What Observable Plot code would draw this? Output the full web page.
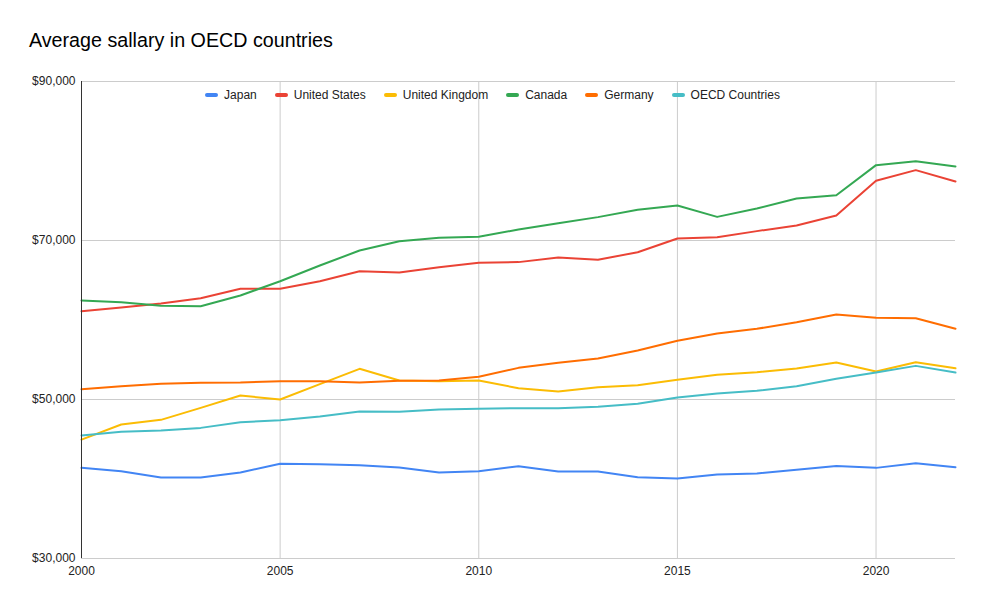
<!DOCTYPE html>
<html>
<head>
<meta charset="utf-8">
<script src="https://cdn.jsdelivr.net/npm/d3@7"></script>
<script src="https://cdn.jsdelivr.net/npm/@observablehq/plot@0.6"></script>
<style>
  body { margin: 0; background: #fff; font-family: "Liberation Sans", Arial, sans-serif; }
  #wrap { position: relative; width: 985px; height: 609px; }
  #title { position: absolute; left: 29px; top: 29px; font-size: 19.7px; color: #000; }
  #legend { position: absolute; left: 0; top: 88px; width: 985px; text-align: center; font-size: 12px; color: #222; white-space: nowrap; }
  #legend span.item { display: inline-block; margin: 0 9px; }
  #legend span.sw { display: inline-block; width: 13px; height: 4px; border-radius: 2px; vertical-align: middle; margin-right: 6px; position: relative; top: -1px; }
  #chart { position: absolute; left: 0; top: 0; }
</style>
</head>
<body>
<div id="wrap">
  <div id="chart"></div>
  <div id="title">Average sallary in OECD countries</div>
  <div id="legend"></div>
</div>
<script>
const years = d3.range(2000, 2023);
const seriesNames = ["Japan", "United States", "United Kingdom", "Canada", "Germany", "OECD Countries"];
const seriesColors = ["#4285F4", "#EA4335", "#FBBC04", "#34A853", "#FF6D01", "#46BDC6"];

const japan = [41400, 40980, 40190, 40190, 40820, 41910, 41870, 41740, 41450, 40820, 40980, 41610, 40940, 40940, 40230, 40060, 40570, 40690, 41150, 41650, 41400, 41990, 41480];
const unitedStates = [61110, 61570, 62070, 62740, 63920, 63920, 64880, 66140, 65970, 66640, 67190, 67280, 67860, 67570, 68530, 70250, 70420, 71180, 71890, 73150, 77510, 78850, 77420];
const unitedKingdom = [44960, 46850, 47440, 48950, 50500, 50000, 51930, 53860, 52390, 52310, 52390, 51420, 51000, 51550, 51800, 52470, 53100, 53440, 53900, 54650, 53520, 54690, 53930];
const canada = [62450, 62240, 61780, 61740, 63080, 64880, 66850, 68740, 69910, 70340, 70460, 71380, 72180, 72940, 73860, 74400, 72970, 74020, 75280, 75700, 79480, 79980, 79310];
const germany = [51300, 51670, 51970, 52100, 52140, 52310, 52310, 52140, 52350, 52390, 52850, 53980, 54610, 55150, 56160, 57380, 58300, 58890, 59730, 60690, 60270, 60230, 58890];
const oecd = [45470, 45930, 46100, 46430, 47140, 47390, 47860, 48490, 48450, 48740, 48830, 48910, 48910, 49080, 49460, 50250, 50750, 51090, 51670, 52600, 53390, 54230, 53390];

const yTicks = [30000, 50000, 70000, 90000];
const xTicks = [2000, 2005, 2010, 2015, 2020];

const allSeries = [japan, unitedStates, unitedKingdom, canada, germany, oecd];
const data = [];
allSeries.forEach((vals, i) => {
  vals.forEach((v, j) => data.push({ year: years[j], value: v, series: seriesNames[i] }));
});

const fmt = d => "$" + d3.format(",")(d);

const chart = Plot.plot({
  width: 985,
  height: 609,
  marginTop: 81,
  marginBottom: 51,
  marginLeft: 81,
  marginRight: 30,
  style: { fontFamily: "'Liberation Sans', Arial, sans-serif", fontSize: "12px", color: "#222", background: "#fff" },
  x: { domain: [2000, 2022], ticks: xTicks, tickFormat: d => String(d), label: null },
  y: { domain: [30000, 90000], ticks: yTicks, tickFormat: fmt, label: null },
  color: { domain: seriesNames, range: seriesColors },
  marks: [
    Plot.gridX(xTicks.slice(1), { stroke: "#ccc", strokeOpacity: 1, strokeWidth: 1 }),
    Plot.gridY(yTicks, { stroke: "#ccc", strokeOpacity: 1, strokeWidth: 1 }),
    Plot.axisX(xTicks, { tickSize: 0, tickPadding: 8, fontSize: 12, fill: "#222", tickFormat: d => String(d), label: null }),
    Plot.axisY(yTicks, { tickSize: 0, tickPadding: 6, fontSize: 12, fill: "#222", tickFormat: fmt, label: null }),
    Plot.line(data, { x: "year", y: "value", z: "series", stroke: "series", strokeWidth: 2 }),
    Plot.ruleX([2000], { stroke: "#333", strokeWidth: 1 })
  ]
});
document.getElementById("chart").appendChild(chart);

const legend = document.getElementById("legend");
seriesNames.forEach((name, i) => {
  const item = document.createElement("span");
  item.className = "item";
  const sw = document.createElement("span");
  sw.className = "sw";
  sw.style.background = seriesColors[i];
  item.appendChild(sw);
  item.appendChild(document.createTextNode(name));
  legend.appendChild(item);
});
</script>
</body>
</html>
